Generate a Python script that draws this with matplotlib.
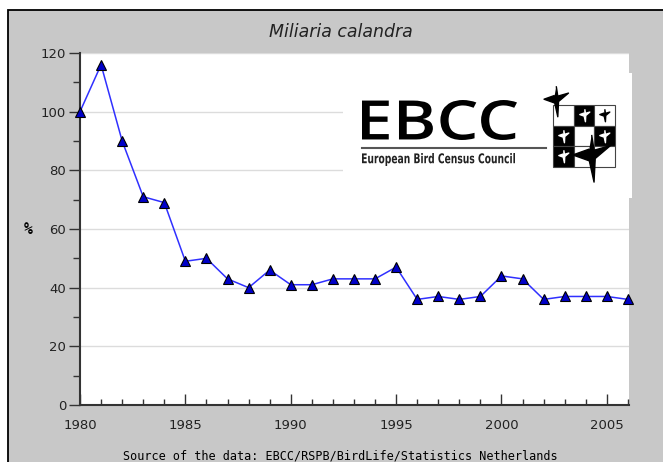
import numpy as np
import matplotlib
matplotlib.use("Agg")
import matplotlib.pyplot as plt
from matplotlib.patches import Rectangle, PathPatch
from matplotlib.textpath import TextPath
from matplotlib.font_manager import FontProperties
from matplotlib.transforms import Affine2D
from matplotlib.ticker import MultipleLocator

# data
years = list(range(1980, 2007))
index = [100, 116, 90, 71, 69, 49, 50, 43, 40, 46, 41, 41, 43, 43, 43,
         47, 36, 37, 36, 37, 44, 43, 36, 37, 37, 37, 36]

title = "Miliaria calandra"
source = "Source of the data: EBCC/RSPB/BirdLife/Statistics Netherlands"

W, H = 663, 462
fig = plt.figure(figsize=(W / 100, H / 100), dpi=100)
fig.patch.set_facecolor("white")

# gray panel with black border (cropped at right/bottom)
bg = Rectangle((8 / W, -0.1), 1.2, (H - 10) / H + 0.1, transform=fig.transFigure,
               facecolor="#c8c8c8", edgecolor="black", linewidth=1.3, zorder=-1)
fig.patches.append(bg)

ax = fig.add_axes([80 / W, 1 - 405 / H, (629 - 80) / W, (405 - 53) / H])
ax.set_facecolor("white")

ax.plot(years, index, color="#3030ff", linewidth=1.1, marker="^", markersize=6.5,
        markerfacecolor="#0000c8", markeredgecolor="black", markeredgewidth=0.8,
        clip_on=False, zorder=3)

ax.set_xlim(1980, 2006.05)
ax.set_ylim(0, 120)
ax.xaxis.set_major_locator(MultipleLocator(5))
ax.xaxis.set_minor_locator(MultipleLocator(1))
ax.yaxis.set_major_locator(MultipleLocator(20))
ax.yaxis.set_minor_locator(MultipleLocator(10))

for y in range(20, 121, 20):
    ax.axhline(y, color="#dcdcdc", linewidth=1, zorder=1)

for s in ["top", "right"]:
    ax.spines[s].set_visible(False)
for s in ["left", "bottom"]:
    ax.spines[s].set_color("#333333")
    ax.spines[s].set_linewidth(1.5)

ax.tick_params(axis="y", which="major", direction="out", length=8, width=1,
               color="#333333", labelsize=9.5, labelcolor="#222222", pad=2)
ax.tick_params(axis="y", which="minor", direction="out", length=5, width=1, color="#333333")
ax.tick_params(axis="x", which="major", direction="in", length=8, width=1,
               color="#333333", labelsize=9.5, labelcolor="#222222", pad=10)
ax.tick_params(axis="x", which="minor", direction="in", length=4, width=1, color="#333333")

fig.text(341 / W, 1 - 32 / H, title, ha="center", va="center", fontsize=12.5,
         style="italic", color="#222222")
fig.text(28 / W, 1 - 230 / H, "%", ha="center", va="center", fontsize=10.5,
         fontweight="bold", family="DejaVu Sans Mono")
fig.text(340 / W, 1 - 456 / H, source, ha="center", va="center", fontsize=8.5,
         family="DejaVu Sans Mono")

# EBCC logo, drawn in pixel coordinates
lg = fig.add_axes([0, 0, 1, 1], zorder=5)
lg.set_xlim(0, W)
lg.set_ylim(H, 0)
lg.axis("off")
lg.add_patch(Rectangle((343, 73), 289, 125, facecolor="white", edgecolor="none"))


def stretched_text(txt, font, x, y_bottom, width, height, color, weight):
    tp = TextPath((0, 0), txt, size=1, prop=FontProperties(family=font, weight=weight))
    ext = tp.get_extents()
    tr = Affine2D().translate(-ext.x0, -ext.y0).scale(width / ext.width, -height / ext.height)
    tr = tr.translate(x, y_bottom)
    lg.add_patch(PathPatch(tr.transform_path(tp), facecolor=color, edgecolor="none"))


stretched_text("EBCC", "Open Sans", 362, 140, 155, 40, "black", "semibold")
lg.plot([362, 546], [148, 148], color="#555555", linewidth=1.5)
stretched_text("European Bird Census Council", "DejaVu Sans", 362, 166, 153, 13,
               "#222222", "bold")

bird = [(0.05, 1), (0.15, 0.35), (0.85, 0.55), (0.2, 0.0), (0.15, -1),
        (-0.05, -0.1), (-0.75, 0.15), (-0.05, 0.4)]
pattern = [[0, 1, 0], [1, 0, 1], [1, 0, 0]]
x0, y0, s = 553, 105, 20.5
for r in range(3):
    for c in range(3):
        fill = "black" if pattern[r][c] else "white"
        lg.add_patch(Rectangle((x0 + c * s, y0 + r * s), s, s, facecolor=fill,
                               edgecolor="#444444", linewidth=0.8))
        if (r, c) not in [(0, 0), (1, 1), (2, 1), (2, 2)]:
            lg.plot(x0 + c * s + s / 2, y0 + r * s + s / 2, marker=bird, markersize=9,
                    color="white" if pattern[r][c] else "black", linestyle="none")
lg.plot(555, 101, marker=bird, markersize=22, color="black", linestyle="none")
lg.plot(590, 158, marker=bird, markersize=34, color="black", linestyle="none")

fig.savefig("out.png", dpi=100)
